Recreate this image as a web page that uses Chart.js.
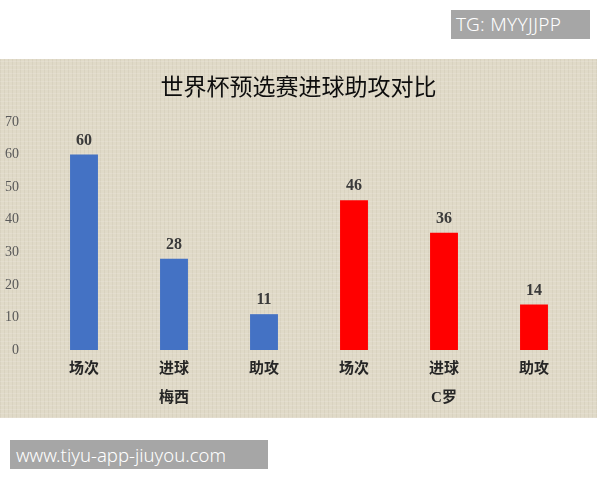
<!DOCTYPE html>
<html>
<head>
<meta charset="utf-8">
<script src="https://cdn.jsdelivr.net/npm/chart.js@4.4.1/dist/chart.umd.min.js"></script>
<style>
  html, body { margin: 0; padding: 0; background: #fff; width: 600px; height: 480px; overflow: hidden; }
  .panel {
    position: absolute; left: 0; top: 59px; width: 597px; height: 359px;
    background-color: #e0dac8;
    background-image:
      repeating-linear-gradient(0deg, rgba(255,255,255,0.12) 0 1px, transparent 1px 4px),
      repeating-linear-gradient(90deg, rgba(120,105,80,0.07) 0 1px, transparent 1px 4px);
  }
  .tag {
    position: absolute; background: #a6a6a6; color: #fff;
    font-family: 'Noto Sans', 'DejaVu Sans', sans-serif; font-weight: 300; white-space: nowrap;
  }
</style>
</head>
<body>
<div class="tag" style="left:451px; top:10px; width:139px; height:29px; line-height:29px; font-size:19px; letter-spacing:0.3px; padding-left:5px; box-sizing:border-box;">TG: MYYJJPP</div>
<div class="panel"><canvas id="c" width="597" height="359"></canvas></div>
<div class="tag" style="left:10px; top:440px; width:258px; height:29px; line-height:29px; font-size:18.5px; padding-left:6px; box-sizing:border-box;">www.tiyu-app-jiuyou.com</div>
<script>
  // ---- data
  const chartTitle = '世界杯预选赛进球助攻对比';
  const players = ['梅西', 'C罗'];
  const stats = ['场次', '进球', '助攻'];
  const messiValues = [60, 28, 11];
  const ronaldoValues = [46, 36, 14];
  const yTicks = [0, 10, 20, 30, 40, 50, 60, 70];

  const PLAYER_COLORS = ['#4472c4', '#ff0000'];
  const SERIF = "'Liberation Serif', 'Noto Sans CJK SC', serif";

  // flatten into 6 bars, group label sits under the middle stat of each player
  const labels = [].concat(stats, stats);
  const values = [].concat(messiValues, ronaldoValues);
  const colors = labels.map((_, i) => PLAYER_COLORS[Math.floor(i / stats.length)]);
  const groupLabels = labels.map((_, i) => (i % stats.length === 1 ? players[Math.floor(i / stats.length)] : ''));

  // value labels above each bar, and the title centred on the whole panel
  // (the built-in title would centre on the padded box, which is off-centre here)
  const decorations = {
    id: 'decorations',
    afterDatasetsDraw(chart) {
      const ctx = chart.ctx;
      ctx.save();
      ctx.textAlign = 'center';
      ctx.font = 'bold 16px ' + SERIF;
      ctx.fillStyle = '#3a3a3a';
      ctx.textBaseline = 'bottom';
      chart.getDatasetMeta(0).data.forEach((bar, i) => {
        ctx.fillText(String(values[i]), bar.x, bar.y - 6);
      });
      ctx.font = "23px 'Noto Sans CJK SC', sans-serif";
      ctx.fillStyle = '#0d0d0d';
      ctx.textBaseline = 'middle';
      ctx.fillText(chartTitle, chart.width / 2, 27);
      ctx.restore();
    },
  };

  new Chart(document.getElementById('c'), {
    type: 'bar',
    data: { labels, datasets: [{
      data: values, backgroundColor: colors, borderWidth: 0,
      categoryPercentage: 1, barPercentage: 0.31,
    }] },
    options: {
      responsive: false, animation: false,
      layout: { padding: { top: 63, right: 18, bottom: 0, left: 0 } },
      plugins: {
        legend: { display: false },
        tooltip: { enabled: false },
        title: { display: false },
      },
      scales: {
        y: {
          min: 0, max: 70,
          afterBuildTicks: (s) => { s.ticks = yTicks.map(v => ({ value: v })); },
          afterFit: (s) => { s.width = 39; },
          grid: { display: false }, border: { display: false },
          ticks: { color: '#595959', font: { family: SERIF, size: 14 }, padding: 12 },
        },
        x: {
          afterFit: (s) => { s.height = 31; },
          grid: { display: false }, border: { display: false },
          ticks: { color: '#262626', font: { family: SERIF, size: 15, weight: 'bold' }, padding: 2, maxRotation: 0 },
        },
        x2: {
          type: 'category', position: 'bottom', labels: groupLabels,
          afterFit: (s) => { s.height = 37; },
          grid: { display: false }, border: { display: false },
          ticks: { color: '#262626', font: { family: SERIF, size: 15, weight: 'bold' }, padding: 0, maxRotation: 0, autoSkip: false },
        },
      },
    },
    plugins: [decorations],
  });
</script>
</body>
</html>
